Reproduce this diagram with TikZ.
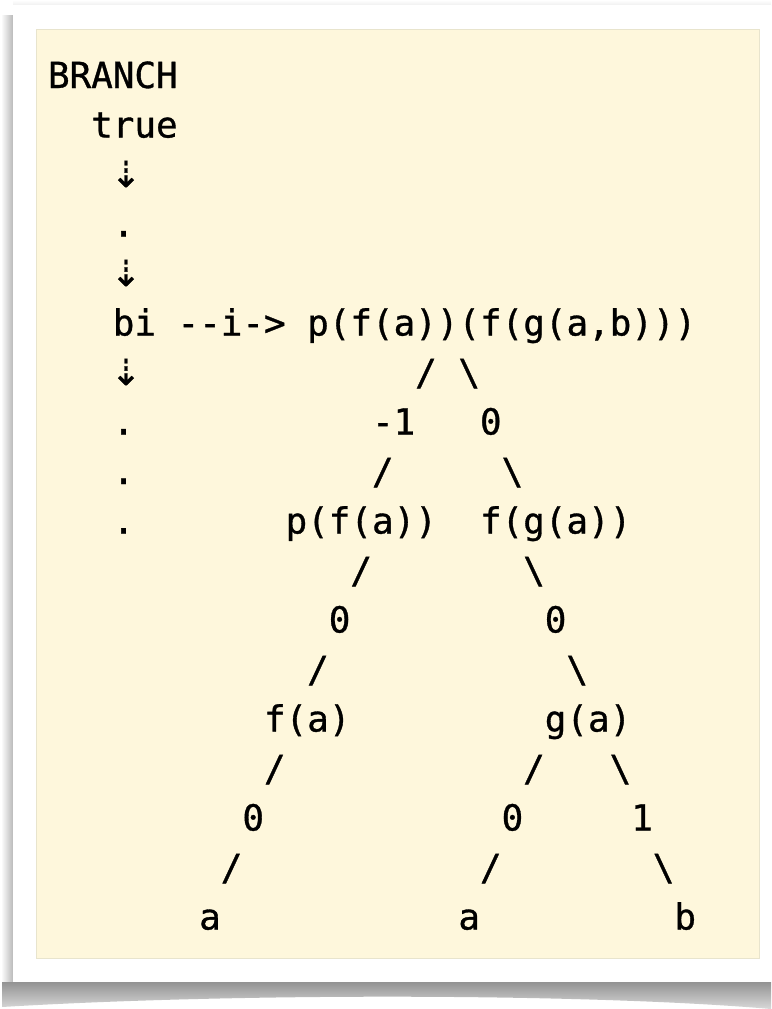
\documentclass[tikz,border=0pt]{standalone}
\usepackage{fontspec}
\setmonofont[FakeBold=0.9]{DejaVu Sans Mono}
\newfontfamily\arrowfnt[FakeBold=1.2]{DejaVu Sans}
\definecolor{cream}{RGB}{254,247,220}
\definecolor{creamedge}{RGB}{232,228,205}
\tikzset{
  txt/.style={anchor=base west, inner sep=0pt, outer sep=0pt, text=black,
              font=\ttfamily\fontsize{35.9}{40}\selectfont},
  arr/.style={anchor=base, inner sep=0pt, outer sep=0pt, text=black,
              font=\arrowfnt\fontsize{36}{40}\selectfont},
}
\newcommand\tk[4]{\node[txt] (#1) at ({48+21.6*#2},{88+49.5*(#3-1)}) {#4};}
\newcommand\ar[2]{\node[arr] (#1) at (126,{88+49.5*(#2-1)}) {⇣};}
\begin{document}
\begin{tikzpicture}[x=1pt,y=-1pt]
\useasboundingbox (0,0) rectangle (771,1009);
\fill[white] (0,0) rectangle (771,1009);
% shadows
\shade[left color=white, right color=gray!55] (1,15) rectangle (13,1003);
\shade[top color=gray!85, bottom color=gray!30] (2,982) -- (771,982) -- (771,1009)
   .. controls (600,994) and (250,992) .. (2,1007) -- cycle;
\shade[top color=white, bottom color=gray!12] (13,0) rectangle (771,5);
% card
\fill[white] (13,5) rectangle (771,982);
% yellow panel
\filldraw[fill=cream, draw=creamedge, line width=1pt] (36,29) rectangle (759,958);
% text
\tk{l1}{0}{1}{BRANCH}
\tk{l2}{2}{2}{true}
\ar{l3}{3}
\tk{l4}{3}{4}{.}
\ar{l5}{5}
\tk{l6a}{3}{6}{bi}
\tk{l6b}{6}{6}{--i->}
\tk{l6c}{12}{6}{p(f(a))(f(g(a,b)))}
\ar{l7a}{7}
\tk{l7b}{17}{7}{/}
\tk{l7c}{19}{7}{\textbackslash}
\tk{l8a}{3}{8}{.}
\tk{l8b}{15}{8}{-1}
\tk{l8c}{20}{8}{0}
\tk{l9a}{3}{9}{.}
\tk{l9b}{15}{9}{/}
\tk{l9c}{21}{9}{\textbackslash}
\tk{l10a}{3}{10}{.}
\tk{l10b}{11}{10}{p(f(a))}
\tk{l10c}{20}{10}{f(g(a))}
\tk{l11a}{14}{11}{/}
\tk{l11b}{22}{11}{\textbackslash}
\tk{l12a}{13}{12}{0}
\tk{l12b}{23}{12}{0}
\tk{l13a}{12}{13}{/}
\tk{l13b}{24}{13}{\textbackslash}
\tk{l14a}{10}{14}{f(a)}
\tk{l14b}{23}{14}{g(a)}
\tk{l15a}{10}{15}{/}
\tk{l15b}{22}{15}{/}
\tk{l15c}{26}{15}{\textbackslash}
\tk{l16a}{9}{16}{0}
\tk{l16b}{21}{16}{0}
\tk{l16c}{27}{16}{1}
\tk{l17a}{8}{17}{/}
\tk{l17b}{20}{17}{/}
\tk{l17c}{28}{17}{\textbackslash}
\tk{l18a}{7}{18}{a}
\tk{l18b}{19}{18}{a}
\tk{l18c}{29}{18}{b}
\end{tikzpicture}
\end{document}
